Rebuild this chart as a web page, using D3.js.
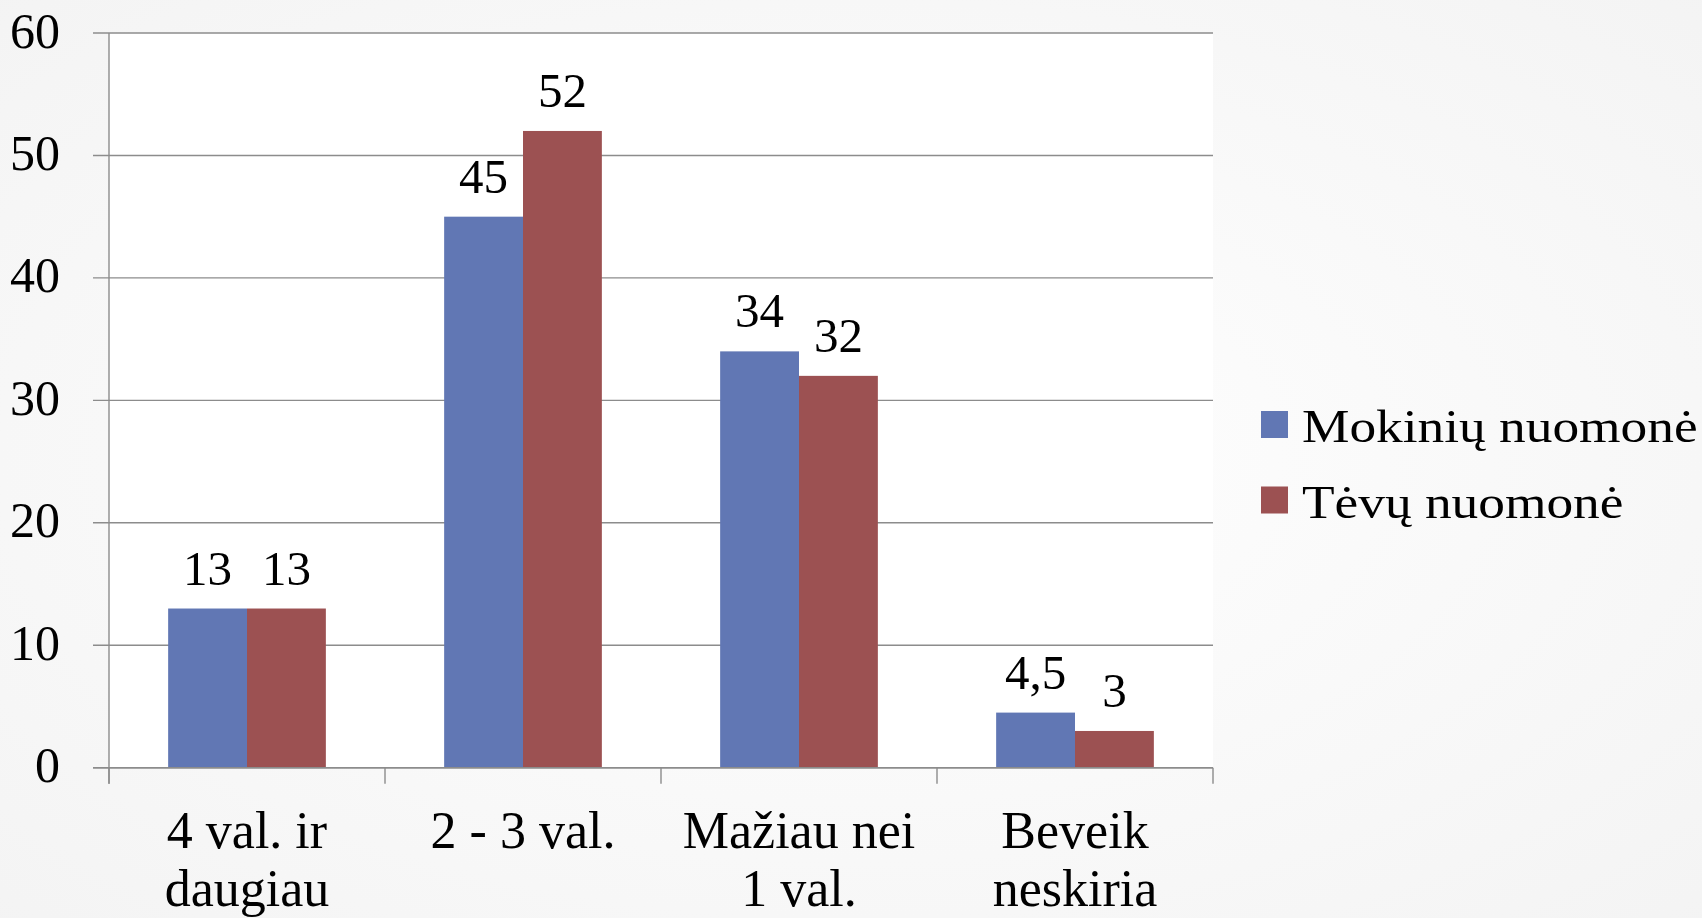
<!DOCTYPE html>
<html>
<head>
<meta charset="utf-8">
<script src="https://cdn.jsdelivr.net/npm/d3@7"></script>
<style>
  html, body { margin: 0; padding: 0; overflow: hidden; }
  text { font-family: "Liberation Serif", "Times New Roman", serif; fill: #000; }
</style>
</head>
<body>
<div id="chart"></div>
<script>
// Data
const categories = [['4 val. ir', 'daugiau'], ['2 - 3 val.'], ['Mažiau nei', '1 val.'], ['Beveik', 'neskiria']]
const series = ['Mokinių nuomonė', 'Tėvų nuomonė']
const mokiniai = [13, 45, 34, 4.5]
const tevai = [13, 52, 32, 3]
const yTicks = [0, 10, 20, 30, 40, 50, 60]
const colors = ['#6177b4', '#9c5152']

// Canvas
const width = 1702, height = 918
const plotLeft = 109, plotRight = 1213, plotTop = 33, plotBottom = 767.7

const svg = d3.select('#chart')
  .append('svg')
  .attr('width', width)
  .attr('height', height)

const defs = svg.append('defs')
const grad = defs.append('radialGradient')
  .attr('id', 'bg')
  .attr('cx', '50%').attr('cy', '50%').attr('r', '75%')
grad.append('stop').attr('offset', '0%').attr('stop-color', '#ffffff')
grad.append('stop').attr('offset', '100%').attr('stop-color', '#f3f3f3')

svg.append('rect')
  .attr('width', width).attr('height', height)
  .attr('fill', 'url(#bg)')

const keys = categories.map(c => c.join(' '))
const x = d3.scaleBand().domain(keys).range([plotLeft, plotRight])
const x1 = d3.scaleBand().domain(series).range([0, x.bandwidth()]).paddingOuter(0.75)
const y = d3.scaleLinear().domain([0, 60]).range([plotBottom, plotTop])

// plot area
svg.append('rect')
  .attr('x', plotLeft).attr('y', plotTop)
  .attr('width', plotRight - plotLeft).attr('height', plotBottom - plotTop)
  .attr('fill', '#ffffff')

// gridlines + y ticks
svg.append('g')
  .selectAll('line')
  .data(yTicks)
  .enter()
  .append('line')
  .attr('x1', plotLeft - 16)
  .attr('x2', plotRight)
  .attr('y1', d => y(d))
  .attr('y2', d => y(d))
  .attr('stroke', '#8c8c8c')
  .attr('stroke-width', 1.4)

svg.append('g')
  .selectAll('text')
  .data(yTicks)
  .enter()
  .append('text')
  .attr('x', 60)
  .attr('y', d => y(d) - 3)
  .attr('dy', '0.35em')
  .attr('text-anchor', 'end')
  .style('font-size', '50px')
  .text(d => d)

// bars
const rows = keys.map((k, i) => ({ key: k, values: [mokiniai[i], tevai[i]] }))

const groups = svg.append('g')
  .selectAll('g')
  .data(rows)
  .enter()
  .append('g')
  .attr('transform', d => `translate(${x(d.key)},0)`)

groups.selectAll('rect')
  .data(d => d.values.map((v, j) => ({ s: series[j], v: v, j: j })))
  .enter()
  .append('rect')
  .attr('x', d => x1(d.s))
  .attr('y', d => y(d.v))
  .attr('width', x1.bandwidth())
  .attr('height', d => plotBottom - y(d.v))
  .attr('fill', d => colors[d.j])

groups.selectAll('text')
  .data(d => d.values.map((v, j) => ({ s: series[j], v: v, j: j })))
  .enter()
  .append('text')
  .attr('x', d => x1(d.s) + x1.bandwidth() / 2)
  .attr('y', d => y(d.v) - 24)
  .attr('text-anchor', 'middle')
  .style('font-size', '49px')
  .text(d => String(d.v).replace('.', ','))

// axes lines
svg.append('line')
  .attr('x1', plotLeft).attr('x2', plotLeft)
  .attr('y1', plotTop).attr('y2', plotBottom + 16)
  .attr('stroke', '#8c8c8c').attr('stroke-width', 1.4)

svg.append('line')
  .attr('x1', plotLeft - 16).attr('x2', plotRight)
  .attr('y1', plotBottom).attr('y2', plotBottom)
  .attr('stroke', '#8c8c8c').attr('stroke-width', 1.4)

const bounds = keys.map(k => x(k)).concat([plotRight])
svg.append('g')
  .selectAll('line')
  .data(bounds)
  .enter()
  .append('line')
  .attr('x1', d => d).attr('x2', d => d)
  .attr('y1', plotBottom).attr('y2', plotBottom + 16)
  .attr('stroke', '#8c8c8c').attr('stroke-width', 1.4)

// category labels
const catLabels = svg.append('g')
  .selectAll('text')
  .data(categories)
  .enter()
  .append('text')
  .attr('x', (d, i) => x(keys[i]) + x.bandwidth() / 2)
  .attr('y', 848)
  .attr('text-anchor', 'middle')
  .style('font-size', '52px')

catLabels.selectAll('tspan')
  .data(d => d)
  .enter()
  .append('tspan')
  .attr('x', function () { return d3.select(this.parentNode).attr('x') })
  .attr('dy', (d, i) => i === 0 ? 0 : 58)
  .text(d => d)

// legend
const legend = svg.append('g')
  .selectAll('g')
  .data(series)
  .enter()
  .append('g')
  .attr('transform', (d, i) => `translate(1261,${411 + i * 75.5})`)

legend.append('rect')
  .attr('width', 27).attr('height', 27)
  .attr('fill', (d, i) => colors[i])

legend.append('text')
  .attr('transform', 'translate(41,31) scale(1.16,1)')
  .style('font-size', '46px')
  .text(d => d)
</script>
</body>
</html>
